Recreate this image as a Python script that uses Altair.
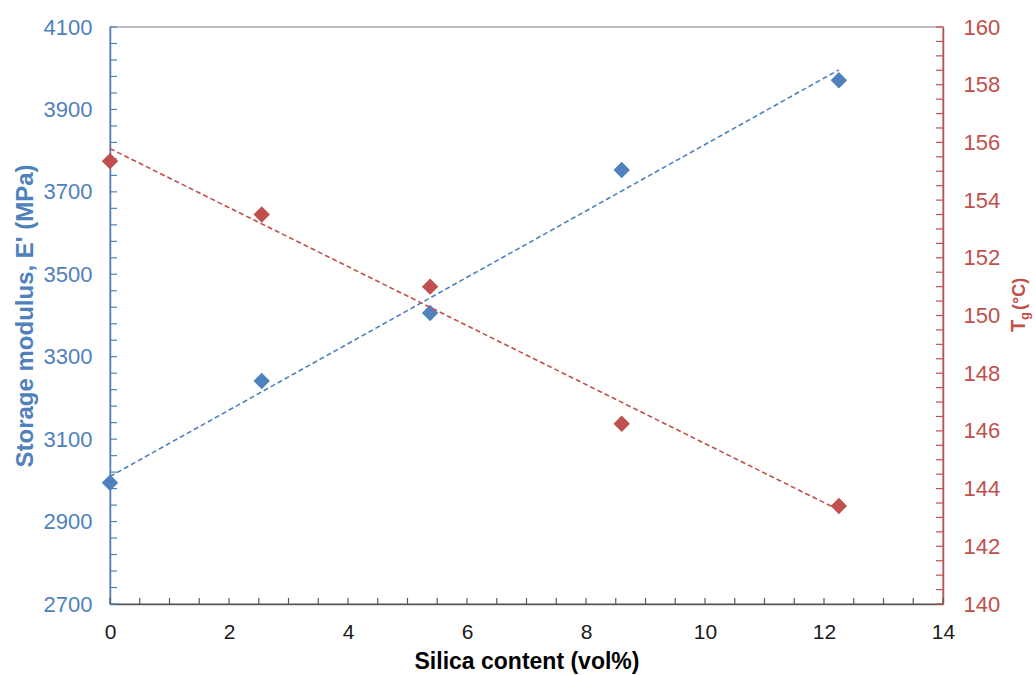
import altair as alt
import pandas as pd

# Data
silica = [0.0, 2.55, 5.38, 8.6, 12.25]
storage_modulus = [2994, 3241, 3406, 3753, 3971]
tg = [155.35, 153.5, 151.0, 146.25, 143.4]

x_major = [0, 2, 4, 6, 8, 10, 12, 14]
e_major = [2700, 2900, 3100, 3300, 3500, 3700, 3900, 4100]
tg_major = [140, 142, 144, 146, 148, 150, 152, 154, 156, 158, 160]

x_minor = [i * 0.5 for i in range(0, 29)]
e_minor = [2700 + 40 * i for i in range(0, 36)]
tg_minor = [140 + 0.5 * i for i in range(0, 41)]

BLUE = "#4F81BD"
RED = "#C0504D"
AXIS_GREY = "#595959"
FONT = "Liberation Sans"

W, H = 833, 577

df = pd.DataFrame({"x": silica, "E": storage_modulus, "Tg": tg})

xscale = alt.Scale(domain=[0, 14], nice=False, zero=False)
escale = alt.Scale(domain=[2700, 4100], nice=False, zero=False)
tscale = alt.Scale(domain=[140, 160], nice=False, zero=False)

x_axis = alt.Axis(
    values=x_major, format="d", title="Silica content (vol%)", tickSize=0, labelPadding=17,
    labelFlush=False, domainColor=AXIS_GREY, domainWidth=1.5, labelColor="#1a1a1a",
    labelFontSize=21, titleFontSize=23, titleFontWeight="bold", titleColor="#000000",
    titlePadding=8, grid=False, labelFont=FONT, titleFont=FONT,
)
e_axis = alt.Axis(
    values=e_major, format="d", title="Storage modulus, E' (MPa)", tickSize=0, labelPadding=18,
    labelFlush=False, domainColor=BLUE, domainWidth=1.5, labelColor=BLUE, labelFontSize=22,
    titleColor=BLUE, titleFontSize=24, titleFontWeight="bold", titlePadding=6,
    grid=False, labelFont=FONT, titleFont=FONT,
)
t_axis = alt.Axis(
    orient="right", values=tg_major, format="d", title="", tickSize=0, labelPadding=20,
    labelFlush=False, domainColor=RED, domainWidth=1.5, labelColor=RED, labelFontSize=22,
    grid=False, labelFont=FONT,
)

blue_pts = alt.Chart(df).mark_point(shape="diamond", filled=True, size=270, opacity=1, color=BLUE).encode(
    x=alt.X("x:Q", scale=xscale, axis=x_axis),
    y=alt.Y("E:Q", scale=escale, axis=e_axis),
)
blue_line = alt.Chart(df).transform_regression("x", "E").mark_line(
    color=BLUE, strokeDash=[5, 3], strokeWidth=1.6
).encode(x=alt.X("x:Q", scale=xscale, axis=x_axis), y=alt.Y("E:Q", scale=escale, axis=e_axis))

e_ticks = alt.Chart(pd.DataFrame({"v": e_minor})).mark_rule(color=BLUE, strokeWidth=1.2).encode(
    y=alt.Y("v:Q", scale=escale, axis=e_axis), x=alt.value(0), x2=alt.value(7)
)
x_ticks = alt.Chart(pd.DataFrame({"v": x_minor})).mark_rule(color=AXIS_GREY, strokeWidth=1.2).encode(
    x=alt.X("v:Q", scale=xscale, axis=x_axis), y=alt.value(H), y2=alt.value(H - 6)
)

left = alt.layer(e_ticks, x_ticks, blue_line, blue_pts)

red_pts = alt.Chart(df).mark_point(shape="diamond", filled=True, size=270, opacity=1, color=RED).encode(
    x=alt.X("x:Q", scale=xscale, axis=x_axis),
    y=alt.Y("Tg:Q", scale=tscale, axis=t_axis),
)
red_line = alt.Chart(df).transform_regression("x", "Tg").mark_line(
    color=RED, strokeDash=[5, 3], strokeWidth=1.6
).encode(x=alt.X("x:Q", scale=xscale, axis=x_axis), y=alt.Y("Tg:Q", scale=tscale, axis=t_axis))
t_ticks = alt.Chart(pd.DataFrame({"v": tg_minor})).mark_rule(color=RED, strokeWidth=1.2).encode(
    y=alt.Y("v:Q", scale=tscale, axis=t_axis), x=alt.value(W), x2=alt.value(W - 7)
)

right = alt.layer(t_ticks, red_line, red_pts)

# Right axis title T_g (°C) with a subscript, rotated
one = pd.DataFrame({"a": [0]})
def rtext(txt, x, y, size):
    return alt.Chart(one).mark_text(
        angle=270, align="left", baseline="alphabetic", font=FONT, fontWeight="bold",
        fontSize=size, color=RED,
    ).encode(x=alt.value(x), y=alt.value(y), text=alt.value(txt))

title_layer = alt.layer(
    rtext("T", 915, 305, 20),
    rtext("g", 919, 293, 13),
    rtext("(°C)", 915, 283, 18),
)

chart = alt.layer(left, right, title_layer).resolve_scale(y="independent").properties(
    width=W, height=H,
    autosize=alt.AutoSizeParams(type="none"),
    padding={"left": 110, "top": 27, "right": 92, "bottom": 71},
).configure_view(stroke="#A6A6A6", strokeWidth=1.5)

chart.save("out.html", embed_options={"renderer": "svg", "actions": False})
